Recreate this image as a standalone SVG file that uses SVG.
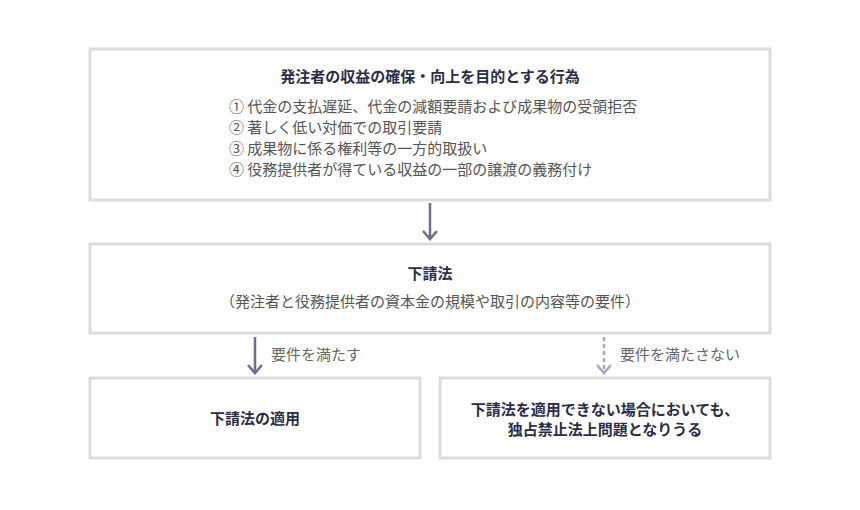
<svg xmlns="http://www.w3.org/2000/svg" width="860" height="510" viewBox="0 0 860 510">
<style>
.box{fill:#fff;stroke:#dcdcdc;stroke-width:3}
.t{font-family:"Noto Sans CJK JP","Noto Sans",sans-serif;font-size:15px}
.b{font-weight:bold;fill:#2b2d48}
.g{fill:#555}
.lab{fill:#666}
.ln{stroke:#6e6e8c;stroke-width:2.5;fill:none}
.dl{stroke:#a9a9bf;stroke-width:2.5;fill:none;stroke-dasharray:4 3}
.ah{stroke:#6e6e8c;stroke-width:2.5;fill:none}
.ahd{stroke:#a9a9bf;stroke-width:2.5;fill:none}
</style>
<rect width="860" height="510" fill="#fff"/>
<g id="node-purpose">
<rect class="box" x="90" y="49" width="680" height="151"/>
<text class="t b" x="430" y="82" text-anchor="middle">発注者の収益の確保・向上を目的とする行為</text>
<text class="t g" x="229" y="112">① 代金の支払遅延、代金の減額要請および成果物の受領拒否</text>
<text class="t g" x="229" y="133">② 著しく低い対価での取引要請</text>
<text class="t g" x="229" y="154">③ 成果物に係る権利等の一方的取扱い</text>
<text class="t g" x="229" y="175">④ 役務提供者が得ている収益の一部の譲渡の義務付け</text>
</g>
<g id="node-shitauke">
<rect class="box" x="90" y="244" width="680" height="89"/>
<text class="t b" x="430" y="279" text-anchor="middle">下請法</text>
<text class="t g" x="430" y="307" text-anchor="middle">（発注者と役務提供者の資本金の規模や取引の内容等の要件）</text>
</g>
<g id="node-apply">
<rect class="box" x="90" y="378" width="330" height="80"/>
<text class="t b" x="255" y="424" text-anchor="middle">下請法の適用</text>
</g>
<g id="node-antitrust">
<rect class="box" x="440" y="378" width="330" height="80"/>
<text class="t b" x="605" y="415" text-anchor="middle">下請法を適用できない場合においても、</text>
<text class="t b" x="605" y="435" text-anchor="middle">独占禁止法上問題となりうる</text>
</g>
<g id="connectors">
<line class="ln" x1="430" y1="203" x2="430" y2="239"/>
<polyline class="ah" points="423,231 430,239 437,231"/>
<line class="ln" x1="255" y1="337" x2="255" y2="373"/>
<polyline class="ah" points="248,365 255,373 262,365"/>
<line class="dl" x1="604" y1="337" x2="604" y2="372"/>
<polyline class="ahd" points="597,365 604,373 611,365"/>
<text class="t lab" x="271" y="360">要件を満たす</text>
<text class="t lab" x="620" y="360">要件を満たさない</text>
</g>
</svg>
